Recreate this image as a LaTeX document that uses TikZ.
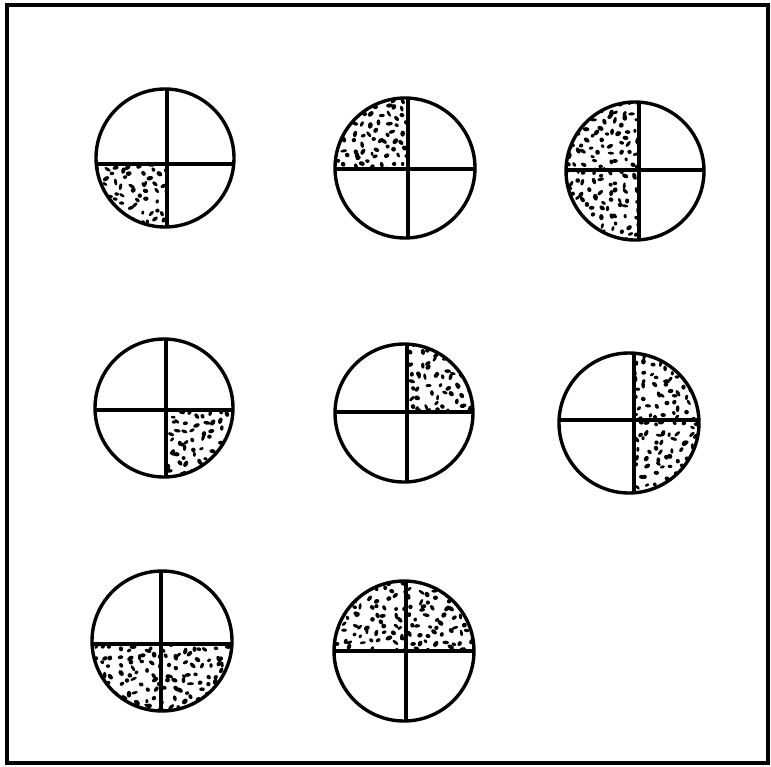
\documentclass[tikz,border=0pt]{standalone}
\tikzset{
  rim/.style={line width=3.4pt},
  bar/.style={line width=3.4pt},
  frame/.style={line width=3.2pt},
}
\newcommand\qdots[4]{%
  \begin{scope}
    \clip (#1,#2) rectangle (#3,#4);
    \foreach \i in {0,...,9}{%
      \foreach \j in {0,...,9}{%
        \pgfmathsetmacro\px{min(#1,#3)+(\i+0.5+0.45*rand)*8.5}%
        \pgfmathsetmacro\py{min(#2,#4)+(\j+0.5+0.45*rand)*8.5}%
        \pgfmathsetmacro\ang{180*rand}%
        \pgfmathsetmacro\rx{2.0+1.6*rnd}%
        \pgfmathsetmacro\ry{1.4+1.0*rnd}%
        \fill[rotate around={\ang:(\px,\py)}] (\px,\py) ellipse[x radius=\rx pt, y radius=\ry pt];
      }}
  \end{scope}}
% #1 cx  #2 cy  #3 r  #4 kx  #5 ky  #6 quadrant code (1 UL, 2 UR, 3 LL, 4 LR)
\newcommand\qfill[6]{%
  \begin{scope}
    \clip (#1,#2) circle[radius=#3pt];
    \ifcase#6\or
      \qdots{#1-#3-3}{#2-#3-3}{#4}{#5}\or
      \qdots{#4}{#2-#3-3}{#1+#3+3}{#5}\or
      \qdots{#1-#3-3}{#5}{#4}{#2+#3+3}\or
      \qdots{#4}{#5}{#1+#3+3}{#2+#3+3}\fi
  \end{scope}}
% #1 name #2 cx #3 cy #4 r #5 kx #6 ky
\newcommand\disc[6]{%
  \coordinate (#1) at (#2,#3);
  \coordinate (#1k) at (#5,#6);
  \begin{scope}
    \clip (#1) circle[radius=#4pt];
    \draw[bar] (#5,#3-#4-5) -- (#5,#3+#4+5);
    \draw[bar] (#2-#4-5,#6) -- (#2+#4+5,#6);
  \end{scope}
  \draw[rim] (#1) circle[radius=#4pt];
}
\begin{document}
\begin{tikzpicture}[x=1pt,y=-1pt]
  \pgfmathsetseed{7}
  \useasboundingbox (0,0) rectangle (771,766);
  \fill[white] (0,0) rectangle (771,766);
  \draw[frame] (7,5) rectangle (768,763);
  % shading
  \qfill{165}{158}{69}{167}{164}{3}
  \qfill{405}{168}{70}{408}{169}{1}
  \qfill{635}{171}{69}{639}{170}{1}
  \qfill{635}{171}{69}{639}{170}{3}
  \qfill{164}{408}{69}{166}{410}{4}
  \qfill{404}{413}{69}{407}{412}{2}
  \qfill{629}{423}{70}{634}{420}{2}
  \qfill{629}{423}{70}{634}{420}{4}
  \qfill{162}{641}{70}{161}{644}{3}
  \qfill{162}{641}{70}{161}{644}{4}
  \qfill{404}{651}{70}{406}{651}{1}
  \qfill{404}{651}{70}{406}{651}{2}
  % discs
  \disc{d1}{165}{158}{69}{167}{164}
  \disc{d2}{405}{168}{70}{408}{169}
  \disc{d3}{635}{171}{69}{639}{170}
  \disc{d4}{164}{408}{69}{166}{410}
  \disc{d5}{404}{413}{69}{407}{412}
  \disc{d6}{629}{423}{70}{634}{420}
  \disc{d7}{162}{641}{70}{161}{644}
  \disc{d8}{404}{651}{70}{406}{651}
\end{tikzpicture}
\end{document}
